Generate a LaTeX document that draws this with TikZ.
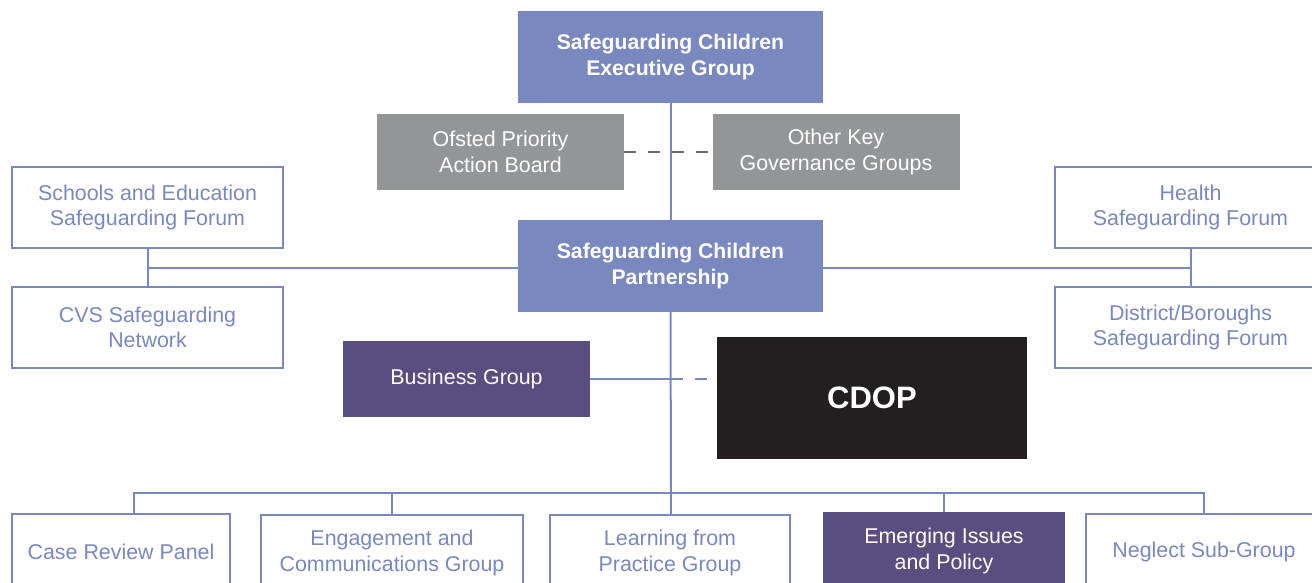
\documentclass[tikz,border=0pt]{standalone}
\usepackage{fontspec}
\setmainfont{Liberation Sans}
\definecolor{sgblue}{HTML}{7A88C0}
\definecolor{sggrey}{HTML}{939598}
\definecolor{sgdash}{HTML}{6D6E71}
\definecolor{sgplum}{HTML}{594E7F}
\definecolor{sgblack}{HTML}{231F20}

\tikzset{
  box/.style={draw=sgblue, line width=1pt, fill=white, text=sgblue, align=center,
    inner sep=0pt, font=\fontsize{10.7}{12.8}\selectfont},
  headbox/.style={box, fill=sgblue, text=white, minimum width=151.5pt, minimum height=45pt,
    font=\bfseries\fontsize{10.6}{12.6}\selectfont},
  greybox/.style={box, draw=sggrey, fill=sggrey, text=white, minimum width=122.5pt, minimum height=37pt},
  plumbox/.style={box, draw=sgplum, fill=sgplum, text=white},
  forumbox/.style={box, minimum width=135.5pt, minimum height=40.5pt},
  subbox/.style={box, minimum height=38pt},
  link/.style={draw=sgblue, line width=1pt},
  greydash/.style={draw=sgdash, line width=1pt, dash pattern=on 6pt off 6pt},
  bluedash/.style={link, dash pattern=on 6pt off 6pt}
}

\begin{document}
\begin{tikzpicture}[x=0.5pt, y=-0.5pt]
  \useasboundingbox (0,0) rectangle (1312,583);
  \clip (0,0) rectangle (1312,583);

  % top of the structure
  \node[headbox] (exec) at (670.5,57) {Safeguarding Children\\Executive Group};
  \node[greybox] (ofsted) at (500.5,152) {Ofsted Priority\\Action Board};
  \node[greybox] (other) at (836,152) {Other Key\\Governance Groups};
  \node[headbox] (part) at (670.5,266) {Safeguarding Children\\Partnership};

  % forums either side
  \node[forumbox] (schools) at (147.5,207.5) {Schools and Education\\Safeguarding Forum};
  \node[forumbox] (cvs) at (147.5,327.5) {CVS Safeguarding\\Network};
  \node[forumbox] (health) at (1190.5,207.5) {Health\\Safeguarding Forum};
  \node[forumbox] (district) at (1190.5,327.5) {District/Boroughs\\Safeguarding Forum};

  \node[plumbox, minimum width=122.5pt, minimum height=37pt] (biz) at (466.5,379) {Business Group};
  \node[box, draw=sgblack, fill=sgblack, text=white, minimum width=154pt, minimum height=60pt,
    font=\bfseries\fontsize{15.5}{18}\selectfont] (cdop) at (872,398) {CDOP};

  % sub-groups
  \node[subbox, minimum width=109pt] (case) at (121,552) {Case Review Panel};
  \node[subbox, minimum width=131pt] (engage) at (392,553) {Engagement and\\Communications Group};
  \node[subbox, minimum width=120pt] (learn) at (670,553) {Learning from\\Practice Group};
  \node[plumbox, minimum width=120pt, minimum height=38pt] (emerge) at (944,551) {Emerging Issues\\and Policy};
  \node[subbox, minimum width=118pt] (neglect) at (1204,552) {Neglect Sub-Group};

  \coordinate (bus) at (671,493);

  % connectors
  \draw[greydash] (ofsted.east) -- (other.west);
  \draw[link] (exec.south) -- (part.north);
  \draw[link] (schools.south) -- (cvs.north);
  \draw[link] (health.south) -- (district.north);
  \draw[link] (part.west |- 0,268) -- (schools.south |- 0,268);
  \draw[link] (part.east |- 0,268) -- (health.south |- 0,268);
  \draw[link] (part.south) -- (bus);
  \draw[link] (biz.east) -- (biz.east -| bus);
  \draw[bluedash] (biz.east -| bus) -- (biz.east -| cdop.west);
  \draw[link] ([xshift=6.5pt]case.north) |- (bus) -| (neglect.north);
  \draw[link] (engage.north) -- (engage.north |- bus);
  \draw[link] (learn.north -| bus) -- (bus);
  \draw[link] (emerge.north) -- (emerge.north |- bus);
\end{tikzpicture}
\end{document}
